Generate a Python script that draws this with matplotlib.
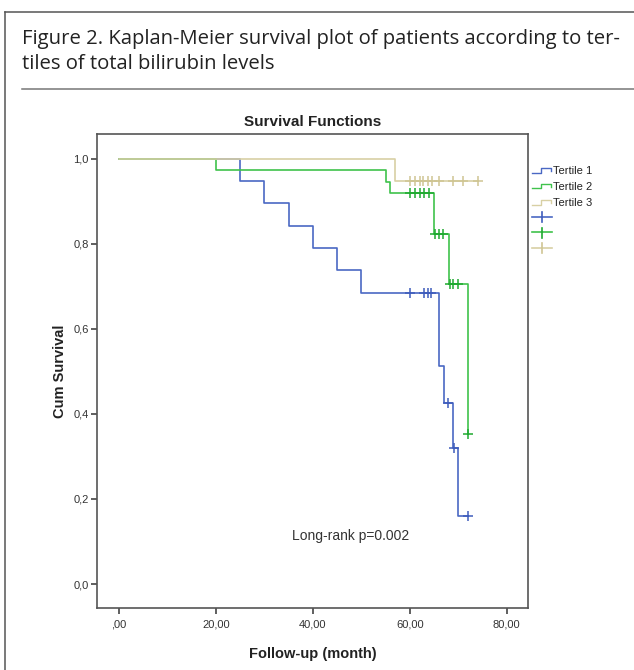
import matplotlib
matplotlib.use('Agg')

import matplotlib.pyplot as plt
from matplotlib.lines import Line2D

# Kaplan-Meier steps (time in months, cumulative survival)
t1_times = [0, 25, 30, 35, 40, 45, 50, 66, 67, 69, 70, 72.1]
t1_surv = [1.0, 0.947, 0.895, 0.842, 0.789, 0.737, 0.684, 0.513, 0.426, 0.319, 0.160, 0.160]
t1_cens_t = [60, 63, 63.7, 64.4, 67.8, 69.1, 72.1]
t1_cens_s = [0.684, 0.684, 0.684, 0.684, 0.426, 0.319, 0.160]

t2_times = [0, 20, 55, 56, 65, 68, 72]
t2_surv = [1.0, 0.973, 0.946, 0.919, 0.822, 0.705, 0.352]
t2_cens_t = [60, 61, 62, 63, 64, 65.2, 66.0, 66.8, 68.2, 69.0, 69.9, 72]
t2_cens_s = [0.919] * 5 + [0.822] * 3 + [0.705] * 3 + [0.352]

t3_times = [0, 57, 74]
t3_surv = [1.0, 0.947, 0.947]
t3_cens_t = [60, 61, 62, 62.8, 63.7, 64.6, 66, 69, 71, 74]
t3_cens_s = [0.947] * 10

group_labels = ['Tertile 1', 'Tertile 2', 'Tertile 3']
x_ticks = [0, 20, 40, 60, 80]
x_ticklabels = [',00', '20,00', '40,00', '60,00', '80,00']
y_ticks = [0.0, 0.2, 0.4, 0.6, 0.8, 1.0]
y_ticklabels = ['0,0', '0,2', '0,4', '0,6', '0,8', '1,0']

line_colors = ['#4a68c4', '#3fc24c', '#d8d0a4']
cens_colors = ['#3e5cbc', '#1faa30', '#cfc593']

W, H = 634, 670

plt.rcParams['font.family'] = ['Liberation Sans', 'DejaVu Sans']


def fx(px):
    return px / W


def fy(py):
    return 1 - py / H


fig = plt.figure(figsize=(W / 100, H / 100), dpi=100)

# outer box and caption
fig.add_artist(Line2D([fx(5), fx(5)], [fy(12), fy(H + 5)], color='#555555', lw=1.1))
fig.add_artist(Line2D([fx(5), fx(W + 5)], [fy(12), fy(12)], color='#555555', lw=1.1))
fig.add_artist(Line2D([fx(22), fx(W + 5)], [fy(89), fy(89)], color='#777777', lw=1.1))
fig.text(fx(22), fy(44), 'Figure 2. Kaplan-Meier survival plot of patients according to ter-',
         family=['Open Sans', 'DejaVu Sans'], fontsize=14.6, color='#222222', va='baseline')
fig.text(fx(22), fy(69), 'tiles of total bilirubin levels',
         family=['Open Sans', 'DejaVu Sans'], fontsize=14.6, color='#222222', va='baseline')

ax = fig.add_axes([fx(97.3), fy(608.3), fx(528.3) - fx(97.3), fy(134.3) - fy(608.3)])

series = [
    (t1_times, t1_surv, t1_cens_t, t1_cens_s),
    (t2_times, t2_surv, t2_cens_t, t2_cens_s),
    (t3_times, t3_surv, t3_cens_t, t3_cens_s),
]
for i, (tt, ss, ct, cs) in enumerate(series):
    ax.step(tt, ss, where='post', color=line_colors[i], lw=1.2)
    ax.plot(ct, cs, ls='none', marker='+', ms=7, mew=1.1, color=cens_colors[i])

ax.text(47.8, 0.113, 'Long-rank p=0.002', fontsize=10, color='#333333',
        ha='center', va='center')

ax.set_xlim(-4.5, 84.45)
ax.set_ylim(-0.057, 1.057)
ax.set_xticks(x_ticks)
ax.set_xticklabels(x_ticklabels)
ax.set_yticks(y_ticks)
ax.set_yticklabels(y_ticklabels)
ax.tick_params(direction='out', length=4, width=1.2, color='#444444',
               labelsize=8, labelcolor='#333333', pad=2)
ax.tick_params(axis='x', pad=4)
for sp in ax.spines.values():
    sp.set_color('#555555')
    sp.set_linewidth(1.2)

ax.set_title('Survival Functions', fontsize=11, fontweight='bold', color='#222222', pad=6)
ax.set_xlabel('Follow-up (month)', fontsize=10.5, fontweight='bold', color='#222222', labelpad=13)
ax.set_ylabel('Cum Survival', fontsize=10.5, fontweight='bold', color='#222222', labelpad=5)

# legend drawn beside the frame
leg_y = [170, 186, 202]
for i, lab in enumerate(group_labels):
    y = leg_y[i]
    xs = [fx(531.5), fx(540.5), fx(540.5), fx(551), fx(551)]
    ys = [fy(y + 2.5), fy(y + 2.5), fy(y - 2), fy(y - 2), fy(y + 1)]
    fig.add_artist(Line2D(xs, ys, color=line_colors[i], lw=1.0))
    fig.text(fx(553), fy(y + 1), lab, fontsize=8, color='#222222', va='center')
for i, y in enumerate([217, 232.5, 248]):
    fig.add_artist(Line2D([fx(532), fx(552)], [fy(y), fy(y)], color=line_colors[i], lw=1.2))
    fig.add_artist(Line2D([fx(542), fx(542)], [fy(y - 5), fy(y + 5)], color=cens_colors[i], lw=1.2))

fig.savefig('out.png', dpi=100)
